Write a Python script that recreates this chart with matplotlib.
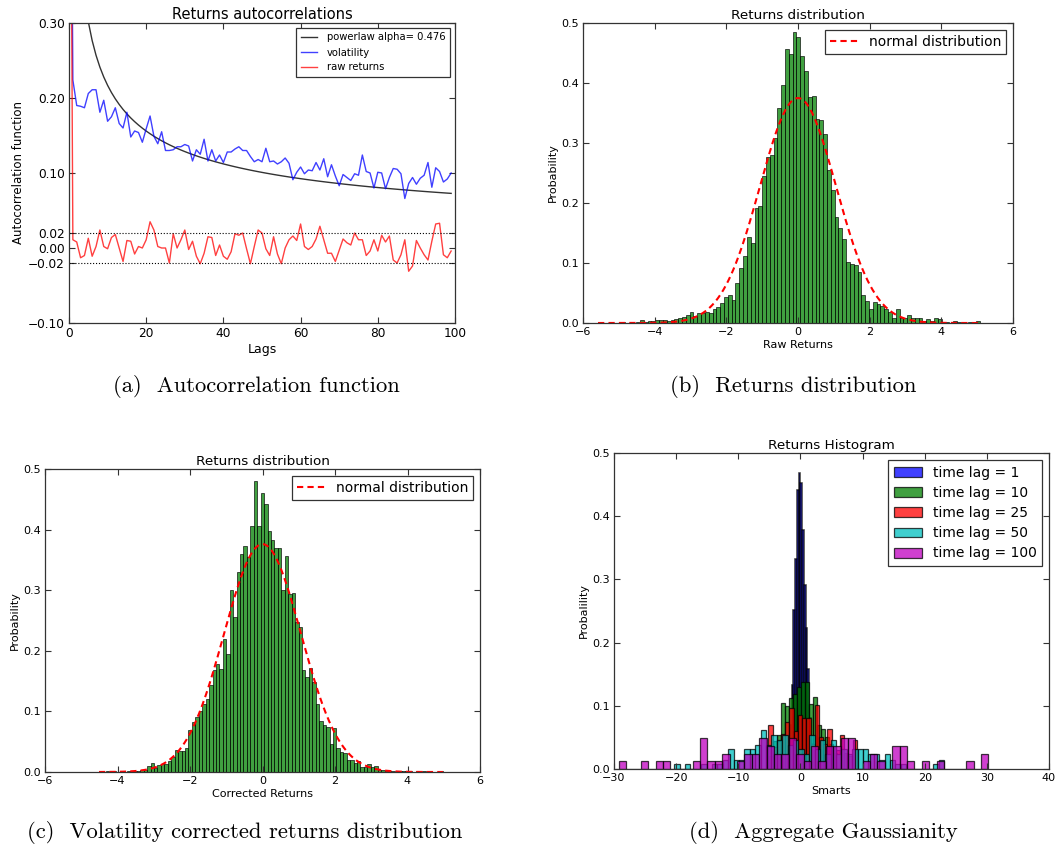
import numpy as np
import matplotlib
matplotlib.use("Agg")
import matplotlib.pyplot as plt

# ---------------- data ----------------
# (a) autocorrelations, lags 0..99
lags = list(range(100))
vol_acf = [1.0,
    0.224, 0.190, 0.189, 0.187, 0.206, 0.211, 0.211, 0.181, 0.197, 0.169,
    0.175, 0.187, 0.166, 0.160, 0.181, 0.148, 0.156, 0.154, 0.141, 0.159,
    0.176, 0.149, 0.139, 0.155, 0.130, 0.130, 0.131, 0.135, 0.135, 0.138,
    0.136, 0.116, 0.131, 0.125, 0.145, 0.116, 0.131, 0.116, 0.124, 0.114,
    0.128, 0.128, 0.132, 0.135, 0.130, 0.130, 0.122, 0.115, 0.118, 0.115,
    0.133, 0.115, 0.116, 0.112, 0.115, 0.120, 0.113, 0.091, 0.101, 0.108,
    0.099, 0.104, 0.103, 0.114, 0.104, 0.119, 0.095, 0.111, 0.096, 0.083,
    0.098, 0.094, 0.090, 0.099, 0.097, 0.124, 0.102, 0.100, 0.080, 0.101,
    0.100, 0.079, 0.094, 0.106, 0.105, 0.099, 0.066, 0.086, 0.094, 0.085,
    0.093, 0.097, 0.114, 0.081, 0.107, 0.102, 0.088, 0.092, 0.100]
raw_acf = [1.0,
    0.011, 0.008, -0.013, -0.010, 0.013, -0.011, 0.002, 0.024, 0.002, -0.001,
    0.014, 0.018, 0.000, -0.018, 0.010, 0.009, -0.008, 0.002, 0.000, 0.011,
    0.035, 0.024, 0.002, 0.000, 0.000, -0.020, 0.019, 0.000, 0.011, 0.024,
    -0.002, 0.009, -0.011, -0.021, -0.007, 0.015, 0.014, -0.010, 0.004, -0.011,
    -0.015, -0.005, 0.019, 0.017, 0.020, -0.001, -0.021, 0.002, 0.024, 0.020,
    -0.001, -0.010, 0.015, -0.008, -0.021, 0.000, 0.011, 0.016, 0.010, 0.032,
    0.002, -0.002, 0.002, 0.012, 0.029, 0.011, -0.007, -0.007, -0.018, -0.003,
    0.012, 0.007, 0.004, 0.020, 0.011, 0.011, -0.010, -0.004, 0.011, -0.004,
    0.017, 0.008, 0.016, -0.016, -0.020, -0.009, 0.011, -0.031, -0.024, 0.010,
    0.000, -0.009, -0.016, 0.009, 0.032, 0.033, -0.009, -0.013, -0.004]
powerlaw_alpha = 0.476
powerlaw_coef = 0.649
a_yticks = [-0.10, -0.02, 0.00, 0.02, 0.10, 0.20, 0.30]

# (b) raw returns histogram (density), 100 bins
raw_lo, raw_hi = -5.58, 5.07
raw_hist = [
    0.002, 0.000, 0.000, 0.000, 0.000, 0.000, 0.002, 0.000, 0.000, 0.000,
    0.001, 0.005, 0.002, 0.003, 0.004, 0.005, 0.005, 0.005, 0.004, 0.005,
    0.006, 0.008, 0.010, 0.013, 0.018, 0.012, 0.017, 0.017, 0.018, 0.017,
    0.024, 0.027, 0.033, 0.043, 0.046, 0.039, 0.067, 0.091, 0.112, 0.144,
    0.134, 0.192, 0.195, 0.245, 0.277, 0.280, 0.308, 0.358, 0.396, 0.456,
    0.449, 0.485, 0.476, 0.445, 0.420, 0.377, 0.379, 0.340, 0.339, 0.315,
    0.255, 0.221, 0.177, 0.159, 0.140, 0.102, 0.099, 0.097, 0.085, 0.047,
    0.036, 0.023, 0.035, 0.032, 0.029, 0.023, 0.019, 0.009, 0.024, 0.009,
    0.008, 0.013, 0.009, 0.008, 0.009, 0.004, 0.006, 0.004, 0.009, 0.006,
    0.002, 0.002, 0.000, 0.003, 0.001, 0.000, 0.000, 0.001, 0.000, 0.003]
raw_mu, raw_sigma = 0.0, 1.064

# (c) volatility corrected returns histogram (density), 100 bins
cor_lo, cor_hi = -4.51, 4.98
cor_hist = [
    0.002, 0.000, 0.001, 0.000, 0.001, 0.000, 0.001, 0.000, 0.001, 0.001,
    0.002, 0.002, 0.003, 0.004, 0.010, 0.015, 0.006, 0.011, 0.014, 0.013,
    0.018, 0.025, 0.036, 0.035, 0.034, 0.039, 0.070, 0.083, 0.090, 0.100,
    0.112, 0.120, 0.143, 0.168, 0.178, 0.170, 0.219, 0.194, 0.300, 0.256,
    0.330, 0.360, 0.373, 0.354, 0.406, 0.480, 0.406, 0.461, 0.443, 0.397,
    0.383, 0.369, 0.369, 0.300, 0.356, 0.294, 0.295, 0.248, 0.240, 0.168,
    0.157, 0.171, 0.149, 0.112, 0.084, 0.077, 0.074, 0.047, 0.072, 0.040,
    0.033, 0.031, 0.020, 0.020, 0.015, 0.018, 0.008, 0.008, 0.013, 0.008,
    0.010, 0.004, 0.003, 0.002, 0.001, 0.002, 0.000, 0.001, 0.002, 0.001,
    0.001, 0.000, 0.001, 0.000, 0.001, 0.000, 0.000, 0.000, 0.000, 0.002]
cor_mu, cor_sigma = 0.0, 1.061

# (d) aggregated returns histograms
lag_labels = ["time lag = 1", "time lag = 10", "time lag = 25",
              "time lag = 50", "time lag = 100"]
lag1_lo, lag1_hi = -1.96, 1.96
lag1_hist = [0.030, 0.070, 0.133, 0.252, 0.333, 0.441, 0.468, 0.452,
             0.378, 0.291, 0.223, 0.159, 0.080, 0.040]
lag10_lo, lag10_hi = -5.065, 5.90
lag10_hist = [0.020, 0.045, 0.054, 0.104, 0.099, 0.112, 0.119, 0.129,
              0.137, 0.137, 0.103, 0.114, 0.070, 0.063, 0.051, 0.040, 0.025]
lag25_lo, lag25_hi = -5.16, 9.08
lag25_hist = [0.070, 0.035, 0.045, 0.055, 0.074, 0.096, 0.060, 0.085,
              0.081, 0.081, 0.040, 0.101, 0.050, 0.040, 0.063, 0.035,
              0.030, 0.054, 0.025, 0.020, 0.046]
lag50_lo, lag50_hi = -20.3, 23.1
lag50_hist = [0.008, 0.000, 0.008, 0.000, 0.000, 0.008, 0.000, 0.008, 0.008, 0.015,
              0.031, 0.015, 0.015, 0.031, 0.031, 0.038, 0.062, 0.038, 0.054, 0.046,
              0.054, 0.038, 0.046, 0.031, 0.023, 0.054, 0.031, 0.046, 0.023, 0.046,
              0.023, 0.031, 0.023, 0.031, 0.031, 0.031, 0.023, 0.023, 0.015, 0.023,
              0.015, 0.008, 0.008, 0.000, 0.000, 0.000, 0.000, 0.000, 0.008, 0.015]
lag100_lo, lag100_hi = -29.25, 30.25
lag100_hist = [0.012, 0.000, 0.000, 0.012, 0.000, 0.012, 0.012, 0.000, 0.000, 0.000,
               0.012, 0.049, 0.012, 0.012, 0.024, 0.000, 0.012, 0.024, 0.024, 0.049,
               0.036, 0.024, 0.024, 0.049, 0.024, 0.012, 0.036, 0.012, 0.036, 0.036,
               0.049, 0.049, 0.000, 0.012, 0.024, 0.012, 0.000, 0.036, 0.036, 0.012,
               0.000, 0.012, 0.000, 0.012, 0.000, 0.000, 0.000, 0.012, 0.000, 0.024]
lag_colors = ["b", "g", "r", "c", "m"]

captions = ["(a)  Autocorrelation function", "(b)  Returns distribution",
            "(c)  Volatility corrected returns distribution",
            "(d)  Aggregate Gaussianity"]

# ---------------- figure ----------------
W, H = 1058, 848
fig = plt.figure(figsize=(W / 100, H / 100), dpi=100)
fig.patch.set_facecolor("white")


def px_axes(l, t, r, b):
    return fig.add_axes([l / W, 1 - b / H, (r - l) / W, (b - t) / H])


def style_ax(ax, fs):
    ax.tick_params(direction="in", top=True, right=True, length=4,
                   width=0.8, labelsize=fs, pad=3, color="#333333")
    for s in ax.spines.values():
        s.set_linewidth(0.9)
        s.set_color("#333333")


def hist_from(ax, lo, hi, heights, **kw):
    edges = np.linspace(lo, hi, len(heights) + 1)
    centers = 0.5 * (edges[:-1] + edges[1:])
    return ax.hist(centers, bins=edges, weights=heights, **kw)


# (a)
axA = px_axes(69, 23, 455, 323)
lg = np.array(lags[1:], dtype=float)
axA.plot(lg, powerlaw_coef * lg ** (-powerlaw_alpha), color="k", alpha=0.8,
         lw=1.0, label="powerlaw alpha= %.3f" % powerlaw_alpha)
axA.plot(lags, vol_acf, color="b", alpha=0.75, lw=1.0, label="volatility")
axA.plot(lags, raw_acf, color="r", alpha=0.75, lw=1.0, label="raw returns")
axA.axhline(0.02, color="k", ls=":", lw=0.8)
axA.axhline(-0.02, color="k", ls=":", lw=0.8)
axA.set_xlim(0, 100)
axA.set_ylim(-0.10, 0.30)
axA.set_yticks(a_yticks)
axA.set_yticklabels(["%.2f" % v if v >= 0 else "\u2212%.2f" % abs(v) for v in a_yticks])
axA.set_xticks(range(0, 101, 20))
axA.set_title("Returns autocorrelations", fontsize=10.5, pad=3)
axA.set_xlabel("Lags", fontsize=9, labelpad=2)
axA.set_ylabel("Autocorrelation function", fontsize=8.5, labelpad=2)
style_ax(axA, 8.7)
legA = axA.legend(loc="upper right", fontsize=7.2, handlelength=1.6,
                  handletextpad=1.0, borderpad=0.45, labelspacing=0.5,
                  fancybox=False, framealpha=1, edgecolor="#333333")
legA.get_frame().set_linewidth(0.9)

# (b) and (c)
def dist_panel(ax, lo, hi, heights, mu, sigma, xlabel):
    hist_from(ax, lo, hi, heights, color="g", alpha=0.75, edgecolor="k",
              linewidth=0.6)
    xs = np.linspace(lo, hi, 300)
    ax.plot(xs, np.exp(-0.5 * ((xs - mu) / sigma) ** 2) / (sigma * np.sqrt(2 * np.pi)),
            color="r", ls="--", dashes=(3, 2), lw=1.5, label="normal distribution")
    ax.set_xlim(-6, 6)
    ax.set_ylim(0, 0.5)
    ax.set_xticks(range(-6, 7, 2))
    ax.set_yticks(np.arange(0, 0.51, 0.1))
    ax.set_yticklabels(["%.1f" % v for v in np.arange(0, 0.51, 0.1)])
    ax.set_title("Returns distribution", fontsize=9.7, pad=3)
    ax.set_xlabel(xlabel, fontsize=8, labelpad=2)
    ax.set_ylabel("Probability", fontsize=8, labelpad=2)
    style_ax(ax, 8)
    lg_ = ax.legend(loc="upper right", fontsize=10, handlelength=2,
                    borderpad=0.35, fancybox=False, framealpha=1,
                    edgecolor="#333333")
    lg_.get_frame().set_linewidth(0.9)


axB = px_axes(583, 23, 1013, 323)
dist_panel(axB, raw_lo, raw_hi, raw_hist, raw_mu, raw_sigma, "Raw Returns")
axC = px_axes(45, 469, 480, 772)
dist_panel(axC, cor_lo, cor_hi, cor_hist, cor_mu, cor_sigma, "Corrected Returns")

# (d)
axD = px_axes(614, 453, 1049, 769)
series = [(lag1_lo, lag1_hi, lag1_hist), (lag10_lo, lag10_hi, lag10_hist),
          (lag25_lo, lag25_hi, lag25_hist), (lag50_lo, lag50_hi, lag50_hist),
          (lag100_lo, lag100_hi, lag100_hist)]
edge_widths = [1.15, 0.9, 0.9, 0.9, 0.9]
handles = []
for (lo, hi, h), col, lab, ew in zip(series, lag_colors, lag_labels, edge_widths):
    hist_from(axD, lo, hi, h, color=col, alpha=0.75, edgecolor="k",
              linewidth=ew)
    handles.append(plt.Rectangle((0, 0), 1, 1, facecolor=col, alpha=0.75,
                                 edgecolor="k", linewidth=0.9, label=lab))
axD.set_xlim(-30, 40)
axD.set_ylim(0, 0.5)
axD.set_xticks(range(-30, 41, 10))
axD.set_yticks(np.arange(0, 0.51, 0.1))
axD.set_yticklabels(["%.1f" % v for v in np.arange(0, 0.51, 0.1)])
axD.set_title("Returns Histogram", fontsize=9.7, pad=3)
axD.set_xlabel("Smarts", fontsize=8, labelpad=2)
axD.set_ylabel("Probalility", fontsize=8, labelpad=2)
style_ax(axD, 8)
legD = axD.legend(handles=handles, loc="upper right", fontsize=10,
                  handlelength=2, borderpad=0.4, labelspacing=0.45,
                  fancybox=False, framealpha=1, edgecolor="#333333")
legD.get_frame().set_linewidth(0.9)

# captions
cap_pos = [(256, 386), (793, 386), (245, 833), (823, 833)]
for (cx, cy), txt in zip(cap_pos, captions):
    fig.text(cx / W, 1 - cy / H, txt, ha="center", va="center",
             fontsize=16.3, family="cmr10")

fig.savefig("out.png", dpi=100, facecolor="white")
